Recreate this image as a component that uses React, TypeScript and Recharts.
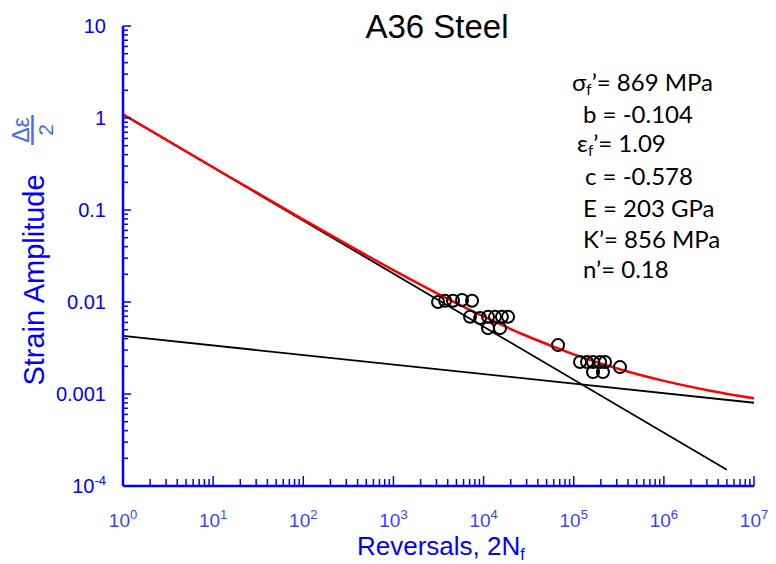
import React from 'react';
import { ComposedChart, XAxis, YAxis, Line, Scatter } from 'recharts';

// test data: reversals to failure vs strain amplitude
const testReversals = [
  3125, 3740, 4580, 5770, 7450, 7080, 9140, 11200, 13400, 16000, 18700, 11200,
  15200, 67000, 117500, 140600, 163800, 196000, 222500, 326000, 163800, 211000,
];
const testStrain = [
  0.01, 0.0103, 0.0103, 0.0105, 0.0103, 0.0069, 0.0067, 0.0069, 0.0069, 0.0069,
  0.0069, 0.0052, 0.0052, 0.0034, 0.00223, 0.00223, 0.00223, 0.00223, 0.00223,
  0.00196, 0.00173, 0.00173,
];

// total strain-life curve (red)
const fitReversals = [1, 10, 100, 1000, 3162, 10000, 31620, 100000, 316200, 1e6, 3162000, 1e7];
const fitStrain = [1.094, 0.2914, 0.0787, 0.0222, 0.01219, 0.00696, 0.004189, 0.002698, 0.001869, 0.001389, 0.001094, 0.000899];

// elastic and plastic lines (black)
const elasticReversals = [1, 1e7];
const elasticStrain = [0.00428, 0.000803];
const plasticReversals = [1, 5e6];
const plasticStrain = [1.09, 0.00015];

const xDecades = [1, 10, 100, 1e3, 1e4, 1e5, 1e6, 1e7];
const xDecadeExp = ['0', '1', '2', '3', '4', '5', '6', '7'];
const yDecades = [1e-4, 1e-3, 1e-2, 1e-1, 1, 10];
const yDecadeText = ['10', '0.001', '0.01', '0.1', '1', '10'];
const yDecadeSup = ['-4', '', '', '', '', ''];

const BLUE = '#0000ff';

const minorTicks = (decades: number[]) => {
  const out: number[] = [];
  decades.forEach((d, i) => {
    out.push(d);
    if (i < decades.length - 1) {
      for (let m = 2; m <= 9; m++) out.push(d * m);
    }
  });
  return out;
};

const xTicks = minorTicks(xDecades);
const yTicks = minorTicks(yDecades);

const isMajor = (v: number) => {
  const l = Math.log10(v);
  return Math.abs(l - Math.round(l)) < 1e-6;
};

const toPoints = (xs: number[], ys: number[]) => xs.map((x, i) => ({ x, y: ys[i] }));

const XTick = (props: any) => {
  const { x, y, payload } = props;
  const v = payload.value;
  const major = isMajor(v);
  const idx = xDecades.findIndex((d) => Math.abs(Math.log10(d) - Math.log10(v)) < 1e-6);
  return (
    <g>
      <line x1={x} y1={y} x2={x} y2={y - (major ? 10 : 7)} stroke={BLUE} strokeWidth={1.5} />
      {major && idx >= 0 && (
        <text x={x} y={y + 41} textAnchor='middle' fill='#4040ff' fontSize={19}>
          10<tspan dy={-8} fontSize={13}>{xDecadeExp[idx]}</tspan>
        </text>
      )}
    </g>
  );
};

const YTick = (props: any) => {
  const { x, y, payload } = props;
  const v = payload.value;
  const major = isMajor(v);
  const idx = yDecades.findIndex((d) => Math.abs(Math.log10(d) - Math.log10(v)) < 1e-6);
  return (
    <g>
      <line x1={x} y1={y} x2={x + (major ? 8 : 5)} y2={y} stroke={BLUE} strokeWidth={1.5} />
      {major && idx >= 0 && (
        <text x={x - 17} y={y + 7} textAnchor='end' fill={BLUE} fontSize={20}>
          {yDecadeText[idx]}
          {yDecadeSup[idx] && (
            <tspan dy={-8} fontSize={13}>
              {yDecadeSup[idx]}
            </tspan>
          )}
        </text>
      )}
    </g>
  );
};

const HollowCircle = (props: any) => (
  <circle cx={props.cx} cy={props.cy} r={6} fill='none' stroke='#000' strokeWidth={2} />
);

export default function App() {
  return (
    <div
      style={{
        position: 'absolute',
        left: 0,
        top: 0,
        width: 776,
        height: 564,
        background: '#fff',
        fontFamily: '"Liberation Sans", Arial, sans-serif',
      }}
    >
      <ComposedChart width={776} height={564} margin={{ top: 26, right: 22, bottom: 38, left: 63 }}>
        <XAxis
          dataKey='x'
          type='number'
          scale='log'
          domain={[1, 1e7]}
          allowDataOverflow
          ticks={xTicks}
          interval={0}
          tickSize={0}
          tickMargin={0}
          height={40}
          tickLine={false}
          axisLine={{ stroke: BLUE, strokeWidth: 2.5 }}
          tick={(p: any) => <XTick {...p} />}
        />
        <YAxis
          dataKey='y'
          type='number'
          scale='log'
          domain={[1e-4, 10]}
          allowDataOverflow
          ticks={yTicks}
          interval={0}
          tickSize={0}
          tickMargin={0}
          width={60}
          tickLine={false}
          axisLine={{ stroke: BLUE, strokeWidth: 2.5 }}
          tick={(p: any) => <YTick {...p} />}
        />
        <Scatter
          data={toPoints(testReversals, testStrain)}
          dataKey='y'
          shape={HollowCircle}
          isAnimationActive={false}
        />
        <Line
          data={toPoints(elasticReversals, elasticStrain)}
          dataKey='y'
          type='linear'
          stroke='#000'
          strokeWidth={1.8}
          dot={false}
          activeDot={false}
          isAnimationActive={false}
        />
        <Line
          data={toPoints(plasticReversals, plasticStrain)}
          dataKey='y'
          type='linear'
          stroke='#000'
          strokeWidth={1.8}
          dot={false}
          activeDot={false}
          isAnimationActive={false}
        />
        <Line
          data={toPoints(fitReversals, fitStrain)}
          dataKey='y'
          type='monotone'
          stroke='#ff0000'
          strokeWidth={2.5}
          dot={false}
          activeDot={false}
          isAnimationActive={false}
        />
      </ComposedChart>

      <svg
        width={776}
        height={564}
        style={{ position: 'absolute', left: 0, top: 0, pointerEvents: 'none' }}
      >
        <text x={437} y={38} textAnchor='middle' fontSize={33} fill='#000'>
          A36 Steel
        </text>
        <text x={357} y={555} fontSize={26} fill={BLUE}>
          Reversals, 2N<tspan fontSize={16} dy={5}>f</tspan>
        </text>
        <text x={44} y={280} textAnchor='middle' transform='rotate(-90 44 280)' fontSize={29} fill={BLUE}>
          Strain Amplitude
        </text>
        <g transform='translate(32.5,130) rotate(-90)' fill='#4a6cf7'>
          <text x={0} y={-4} textAnchor='middle' fontSize={23}>
            Δε
          </text>
          <line x1={-15} y1={0} x2={15} y2={0} stroke='#4a6cf7' strokeWidth={2.5} />
          <text x={0} y={20} textAnchor='middle' fontSize={21}>
            2
          </text>
        </g>
        <g fontFamily='Lato, "Open Sans", sans-serif' fontSize={24} fill='#000'>
          <text x={572} y={91}>
            σ<tspan dy={4} fontSize={15}>f</tspan>
            <tspan dy={-4}>’= 869 MPa</tspan>
          </text>
          <text x={583} y={123}>b = -0.104</text>
          <text x={577} y={152}>
            ε<tspan dy={4} fontSize={15}>f</tspan>
            <tspan dy={-4}>’= 1.09</tspan>
          </text>
          <text x={585} y={185}>c = -0.578</text>
          <text x={583} y={217}>E = 203 GPa</text>
          <text x={583} y={248}>K’= 856 MPa</text>
          <text x={583} y={278}>n’= 0.18</text>
        </g>
      </svg>
    </div>
  );
}
